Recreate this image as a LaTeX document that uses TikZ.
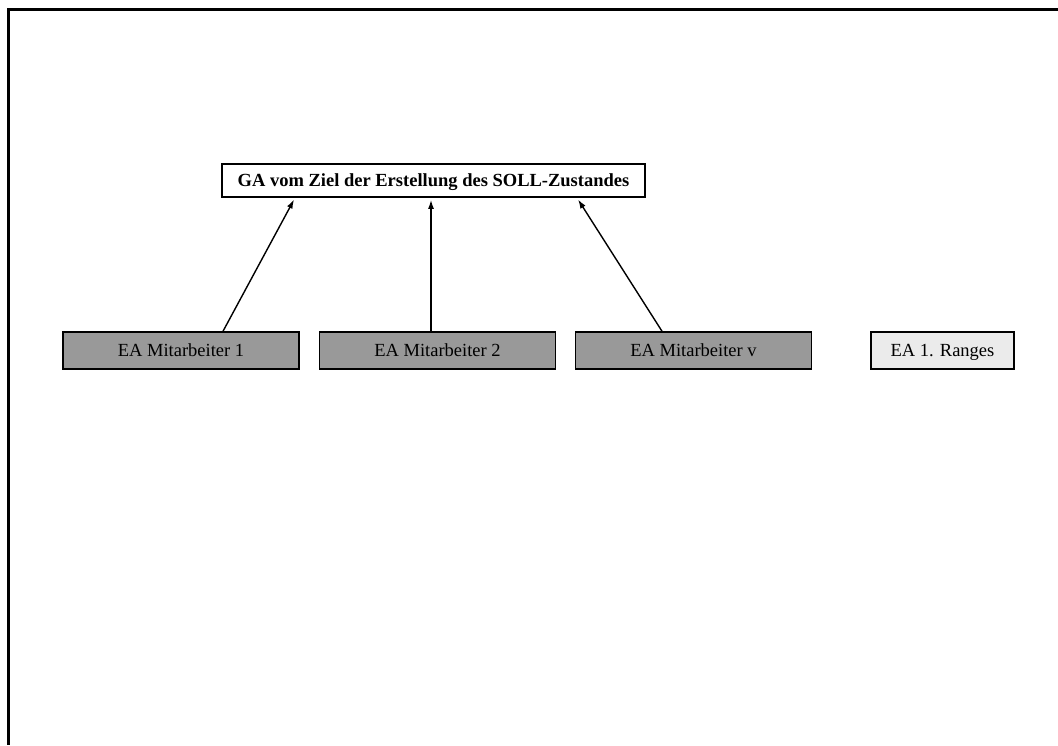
\documentclass[tikz,border=0pt]{standalone}
\usepackage{fontspec}
\setmainfont{Liberation Serif}
\usetikzlibrary{arrows.meta}
\begin{document}
\begin{tikzpicture}[x=1pt,y=-1pt,
  labelfont/.style={font=\fontsize{18.5}{21}\selectfont, text height=12.4pt, text depth=0pt},
  eabox/.style={draw, line width=1.5pt, fill=black!40, minimum width=236pt, minimum height=37pt, inner sep=0pt, labelfont},
  rangbox/.style={draw, line width=1.5pt, fill=black!8, minimum width=143pt, minimum height=37pt, inner sep=0pt, labelfont},
  gabox/.style={draw, line width=1.7pt, fill=white, minimum width=423pt, minimum height=33pt, inner sep=0pt, labelfont, font=\bfseries\fontsize{18.5}{21}\selectfont},
  arr/.style={line width=1.4pt, -{Latex[length=9pt,width=6pt]}, shorten >=2pt},
  frame/.style={line width=3pt}]
  \useasboundingbox (0,0) rectangle (1058,745);
  % open frame along top and left edge
  \coordinate (ftl) at (8.5,9.5);
  \coordinate (ftr) at (1058,9.5);
  \coordinate (fbl) at (8.5,745);
  \draw[frame] (ftr) -- (ftl) -- (fbl);
  % goal
  \node[gabox] (ga) at (433.5,180.5) {GA vom Ziel der Erstellung des SOLL-Zustandes};
  % individual employee goals
  \node[eabox] (b1) at (181,350.5) {EA Mitarbeiter 1};
  \node[eabox] (b2) at (437.5,350.5) {EA Mitarbeiter 2};
  \node[eabox] (bv) at (693.5,350.5) {EA Mitarbeiter v};
  \node[rangbox] (r1) at (942.5,350.5) {EA 1. Ranges};
  % contributions to the goal
  \draw[arr] ([xshift=42pt]b1.north) -- ([xshift=-138.5pt]ga.south);
  \draw[arr] ([xshift=-6.5pt]b2.north) -- ([xshift=-2.5pt]ga.south);
  \draw[arr] ([xshift=-31.5pt]bv.north) -- ([xshift=143.5pt]ga.south);
\end{tikzpicture}
\end{document}
